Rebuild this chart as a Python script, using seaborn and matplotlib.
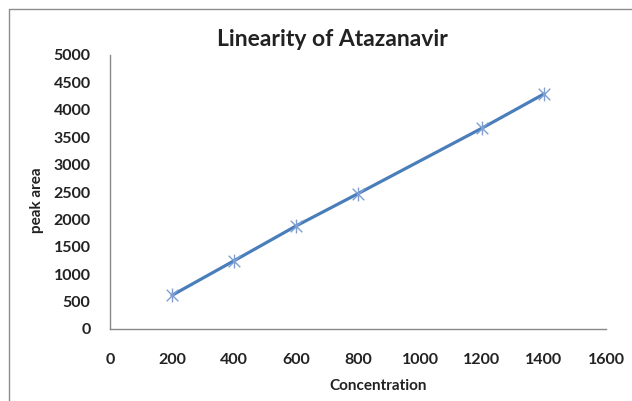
import matplotlib
matplotlib.use("Agg")
import matplotlib.pyplot as plt
from matplotlib.lines import Line2D
from matplotlib.path import Path
import seaborn as sns
import pandas as pd

concentration = [200, 400, 600, 800, 1200, 1400]
peak_area = [615, 1245, 1880, 2470, 3665, 4290]
x_ticks = [0, 200, 400, 600, 800, 1000, 1200, 1400, 1600]
y_ticks = [0, 500, 1000, 1500, 2000, 2500, 3000, 3500, 4000, 4500, 5000]
title = "Linearity of Atazanavir"
x_label = "Concentration"
y_label = "peak area"

sns.set_theme(style="white")
plt.rcParams['font.family'] = ['Lato', 'DejaVu Sans']

df = pd.DataFrame({"Concentration": concentration, "peak area": peak_area})

star = Path([(-1, -1), (1, 1), (-1, 1), (1, -1), (0, -1.2), (0, 1.2)],
            [Path.MOVETO, Path.LINETO, Path.MOVETO, Path.LINETO, Path.MOVETO, Path.LINETO])

fig = plt.figure(figsize=(6.32, 4.01), dpi=100)
ax = fig.add_axes([110/632, 1 - 329/401, 496/632, 274/401])

sns.lineplot(data=df, x="Concentration", y="peak area", ax=ax,
             color="#4A7EBB", linewidth=2.3, marker=star,
             markersize=10, markeredgecolor="#7F9FD3", markeredgewidth=1.0)

ax.set_xlim(0, 1600)
ax.set_ylim(0, 5000)
ax.set_xticks(x_ticks)
ax.set_yticks(y_ticks)
ax.set_xticklabels([str(v) for v in x_ticks], fontsize=11.5, fontweight="bold", color="#222222")
ax.set_yticklabels([str(v) for v in y_ticks], fontsize=11.5, fontweight="bold", color="#222222")

for s in ["top", "right"]:
    ax.spines[s].set_visible(False)
for s in ["left", "bottom"]:
    ax.spines[s].set_color("#888888")
    ax.spines[s].set_linewidth(1.0)

ax.tick_params(axis="both", direction="out", length=4, width=1.0, color="#888888")
ax.tick_params(axis="x", pad=13)
ax.tick_params(axis="y", pad=10)
ax.grid(False)

ax.set_xlabel(x_label, fontsize=11, fontweight="bold", color="#222222")
ax.set_ylabel(y_label, fontsize=11, fontweight="bold", color="#222222")
ax.xaxis.set_label_coords((378 - 110) / 496, (329 - 379) / 274)
ax.yaxis.set_label_coords((44 - 110) / 496, (329 - 200) / 274)

fig.text(332/632, 1 - 40/401, title, ha="center", va="center",
         fontsize=16.5, fontweight="bold", color="#222222")

border_color = "#8C8C8C"
fig.add_artist(Line2D([9/632, 9/632], [0, 1 - 9/401], transform=fig.transFigure,
                      color=border_color, linewidth=1.0))
fig.add_artist(Line2D([9/632, 1], [1 - 9/401, 1 - 9/401], transform=fig.transFigure,
                      color=border_color, linewidth=1.0))

fig.savefig("out.png", dpi=100)
